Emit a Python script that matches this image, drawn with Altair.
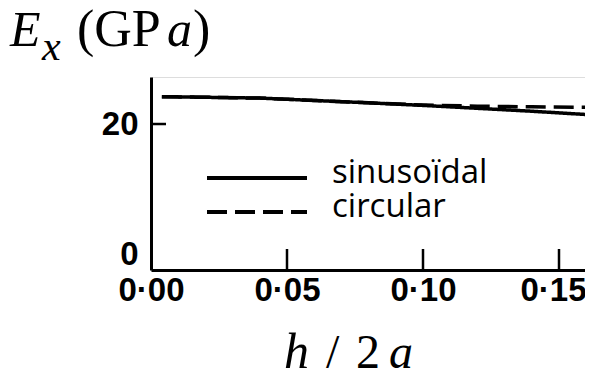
import altair as alt
import pandas as pd

# ---- data ----
h_vals = [0.004, 0.04, 0.08, 0.10, 0.12, 0.14, 0.16]
E_sinusoidal = [23.75, 23.55, 22.9, 22.55, 22.15, 21.75, 21.3]
E_circular = [23.75, 23.55, 22.9, 22.6, 22.45, 22.35, 22.3]
series_names = ["sinusoïdal", "circular"]
x_tick_values = [0.0, 0.05, 0.10, 0.15]
y_tick_values = [0, 20]

df = pd.concat([
    pd.DataFrame({"h": h_vals, "E": E_sinusoidal, "series": series_names[0]}),
    pd.DataFrame({"h": h_vals, "E": E_circular, "series": series_names[1]}),
])

W, H = 434, 193
XMAX = 0.05 * W / 136.0
YMAX = 26.44

xscale = alt.Scale(domain=[0, XMAX], nice=False, zero=False)
yscale = alt.Scale(domain=[0, YMAX], nice=False, zero=False)
dash_scale = alt.Scale(domain=series_names, range=[[1, 0], [20, 8]])

tick_font = "Liberation Sans, Arial, sans-serif"

lines = alt.Chart(df).mark_line(color="black", strokeWidth=3.5, clip=True).encode(
    x=alt.X("h:Q", scale=xscale, axis=alt.Axis(
        values=x_tick_values, format=".2f",
        labelExpr="replace(datum.label, '.', '·')",
        ticks=False, grid=False, domainWidth=3, domainColor="black",
        labelFont=tick_font, labelFontSize=33, labelFontWeight="bold",
        labelColor="black", labelPadding=4, labelFlush=False,
        labelOffset={"condition": {"test": "datum.value > 0.12", "value": -6}, "value": 0},
        title=None)),
    y=alt.Y("E:Q", scale=yscale, axis=alt.Axis(
        values=y_tick_values, format="d",
        ticks=False, grid=False, domainWidth=3, domainColor="black",
        labelFont=tick_font, labelFontSize=33, labelFontWeight="bold",
        labelColor="black", labelPadding=13,
        labelOffset={"condition": {"test": "datum.value == 0", "value": -16}, "value": 0},
        title=None)),
    strokeDash=alt.StrokeDash("series:N", scale=dash_scale, legend=None),
    detail="series:N",
)

xticks = alt.Chart(pd.DataFrame({"h": x_tick_values[1:]})).mark_rule(
    color="black", strokeWidth=2.5).encode(
    x=alt.X("h:Q", scale=xscale), y=alt.value(H), y2=alt.value(H - 21))

yticks = alt.Chart(pd.DataFrame({"E": y_tick_values[1:]})).mark_rule(
    color="black", strokeWidth=2.5).encode(
    y=alt.Y("E:Q", scale=yscale), x=alt.value(0), x2=alt.value(15))

leg = pd.DataFrame({"series": series_names})
leg_font = "Open Sans, Noto Sans, sans-serif"
leg_layers = []
for name, ly in zip(series_names, [101, 135]):
    base = alt.Chart(leg).transform_filter(alt.datum.series == name)
    leg_layers.append(base.mark_rule(color="black", strokeWidth=4).encode(
        x=alt.value(56), x2=alt.value(156), y=alt.value(ly),
        strokeDash=alt.StrokeDash("series:N", scale=dash_scale, legend=None)))
    leg_layers.append(base.mark_text(
        font=leg_font, fontSize=33, align="left", baseline="alphabetic",
        color="black", dy=5).encode(
        x=alt.value(181), y=alt.value(ly), text="series:N"))

def label(txt, x, y, size=50, style="italic"):
    return alt.Chart(pd.DataFrame({"t": [txt]})).mark_text(
        font="Liberation Serif, Times New Roman, serif", fontSize=size,
        fontStyle=style, align="left", baseline="alphabetic", color="black"
    ).encode(text="t:N", x=alt.value(x), y=alt.value(y))

# y-axis title  E_x (GPa)
ox, oy = 151, 77
title_layers = [
    label("E", 10 - ox, 46 - oy),
    label("x", 42 - ox, 60 - oy, size=42),
    label("(GP", 77 - ox, 46 - oy, size=52, style="normal"),
    label("a", 167 - ox, 46 - oy),
    label(")", 193 - ox, 46 - oy, size=52, style="normal"),
    # x-axis title  h / 2a
    label("h", 284 - ox, 368 - oy, size=50),
    label("/", 326 - ox, 368 - oy, size=48, style="normal"),
    label("2", 356 - ox, 368 - oy, size=48, style="normal"),
    label("a", 389 - ox, 368 - oy, size=48),
]

chart = alt.layer(lines, xticks, yticks, *leg_layers, *title_layers).properties(
    width=W, height=H,
    autosize=alt.AutoSizeParams(type="none"),
    padding={"left": 143, "top": 69, "right": 0, "bottom": 99},
).configure_view(stroke=None).configure(background="white")

chart.save("out.html", embed_options={"renderer": "svg", "actions": False})
